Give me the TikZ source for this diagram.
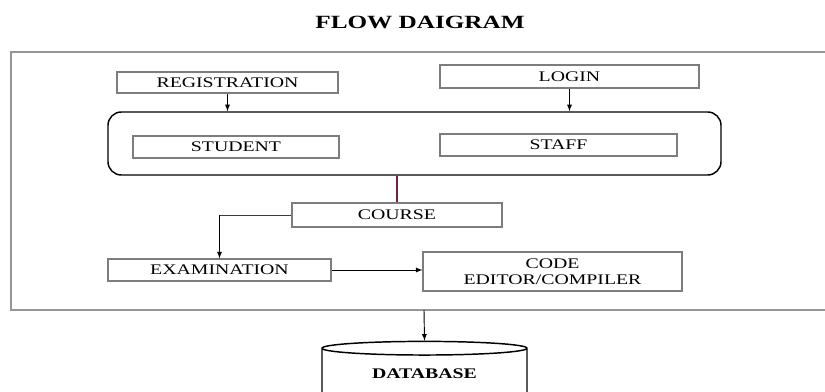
\documentclass[tikz,border=0pt]{standalone}
\usepackage{fontspec}
\setmainfont{Liberation Serif}[FakeStretch=1.35]
\usetikzlibrary{calc}
\usetikzlibrary{positioning}
\usetikzlibrary{shapes}
\definecolor{boxgray}{RGB}{125,125,125}
\definecolor{framegray}{RGB}{150,150,150}
\definecolor{coursewine}{RGB}{105,35,70}
\tikzset{flowbox/.style={rectangle,
                        draw=boxgray,
                        line width=0.8pt,
                        inner sep=0pt,
                        align=center,
                        font=\fontsize{11}{12}\selectfont
                        },
        groupbox/.style={rectangle,
                        rounded corners=10pt,
                        draw=black,
                        line width=1.1pt
        },
        dbnode/.style={cylinder,
                        shape border rotate=90,
                        aspect=0.13,
                        draw=black,
                        line width=1.1pt,
                        inner sep=0pt,
                        text depth=20pt,
                        font=\bfseries\fontsize{11}{12}\selectfont
        },
        flowline/.style={->, >=latex, line width=0.7pt},
}

\begin{document}
\begin{tikzpicture}
    [x=0.75pt,y=-0.75pt]
    \useasboundingbox (0,0) rectangle (825,392);

    % TITLE
    \node[font=\bfseries\fontsize{14}{16}\selectfont] (title) at (420,22) {FLOW DAIGRAM};

    % FRAME
    \draw[framegray,line width=1.1pt] (826,52) -- (11,52) -- (11,310) -- (826,310);
    \coordinate (frameout) at (424,310);

    % LOGIN SIDE
    \node[flowbox, minimum width=165.75pt, minimum height=15.75pt] (registration) at (227.5,82.5) {REGISTRATION};
    \node[flowbox, minimum width=194.25pt, minimum height=17.25pt] (login) at (569.5,76.5) {LOGIN};

    \node[groupbox, minimum width=459.75pt, minimum height=47.25pt] (users) at (414.5,143.5) {};
    \node[flowbox, minimum width=154.5pt, minimum height=16.5pt] (student) at (236,147) {STUDENT};
    \node[flowbox, minimum width=177.75pt, minimum height=16.5pt] (staff) at (558.5,145) {STAFF};

    % COURSE SIDE
    \node[flowbox, minimum width=157.5pt, minimum height=18pt] (course) at (397,215) {COURSE};
    \node[flowbox, minimum width=167.25pt, minimum height=16.5pt] (examination) at (219.5,270) {EXAMINATION};
    \node[flowbox, minimum width=194.25pt, minimum height=29.25pt] (compiler) at (552.5,271.5) {CODE\\EDITOR/COMPILER};

    \node[dbnode, minimum width=153.75pt, minimum height=62pt] (database) at (424.5,386.5) {DATABASE};

    \draw[flowline] (registration) -- (registration.south |- users.north);
    \draw[flowline] (login) -- (login.south |- users.north);
    \draw[coursewine,line width=0.9pt] (course.north |- users.south) -- (course.north);
    \coordinate (bend) at (course.west -| examination.north);
    \draw[coursewine,line width=0.7pt] (course.west) -- (bend);
    \draw[flowline] (bend) -- (examination.north);
    \draw[flowline] (examination.east) -- (examination.east -| compiler.west);
    \draw[flowline] (frameout) -- (database.north);

\end{tikzpicture}
\end{document}
